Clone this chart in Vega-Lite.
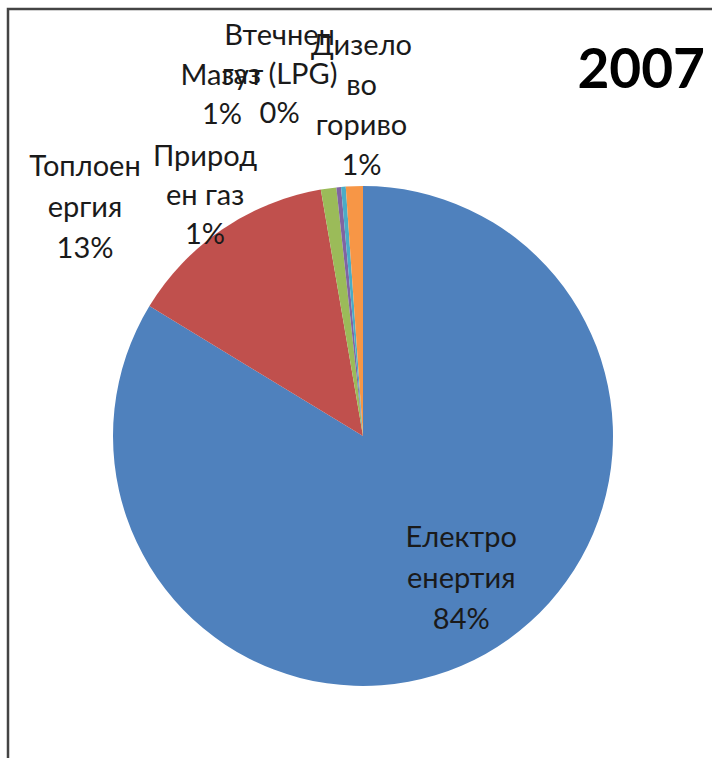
{
  "$schema": "https://vega.github.io/schema/vega-lite/v6.json",
  "width": 704,
  "height": 749,
  "autosize": "none",
  "padding": {"left": 8, "top": 9, "right": 0, "bottom": 0},
  "background": "white",
  "view": {"stroke": "#444444", "strokeWidth": 2.5, "strokeDash": [704, 1453, 749]},
  "title": {
    "text": "2007",
    "orient": "top",
    "anchor": "end",
    "frame": "group",
    "baseline": "alphabetic",
    "offset": -79,
    "dx": -7,
    "dy": 55,
    "font": "Lato",
    "fontSize": 55,
    "fontWeight": "bold",
    "color": "#000000"
  },
  "data": {
    "values": [
      {"i": 1, "name": "Електроенергия", "share": 83.7, "label": ["Електро", "енертия", "84%"]},
      {"i": 2, "name": "Топлоенергия", "share": 13.6, "label": ["Топлоен", "ергия", "13%"]},
      {"i": 3, "name": "Природен газ", "share": 1.0, "label": ["Природ", "ен газ", "1%"]},
      {"i": 4, "name": "Мазут", "share": 0.3, "label": ["Мазут", "1%"]},
      {"i": 5, "name": "Втечнен газ (LPG)", "share": 0.3, "label": ["Втечнен", "газ (LPG)", "0%"]},
      {"i": 6, "name": "Дизелово гориво", "share": 1.1, "label": ["Дизело", "во", "гориво", "1%"]}
    ]
  },
  "transform": [
    {"stack": "share", "groupby": [], "sort": [{"field": "i", "order": "ascending"}], "as": ["t0", "t1"]},
    {"calculate": "(datum.t0 + datum.t1) / 2", "as": "tm"}
  ],
  "layer": [
    {
      "mark": {"type": "arc", "outerRadius": 250, "xOffset": 3, "yOffset": 52.5},
      "encoding": {
        "theta": {"field": "t0", "type": "quantitative", "scale": {"domain": [0, 100]}},
        "theta2": {"field": "t1"},
        "color": {
          "field": "name",
          "type": "nominal",
          "legend": null,
          "scale": {
            "domain": ["Електроенергия", "Топлоенергия", "Природен газ", "Мазут", "Втечнен газ (LPG)", "Дизелово гориво"],
            "range": ["#4F81BD", "#C0504D", "#9BBB59", "#8064A2", "#4BACC6", "#F79646"]
          }
        }
      }
    },
    {
      "transform": [{"filter": "datum.i == 1"}],
      "mark": {"type": "text", "radius": 174, "dx": 13, "dy": -50, "xOffset": 3, "yOffset": 52.5, "font": "Lato", "fontSize": 29, "lineHeight": 41, "align": "center", "baseline": "middle", "color": "#1a1a1a"},
      "encoding": {"theta": {"field": "tm", "type": "quantitative"}, "text": {"field": "label"}}
    },
    {
      "transform": [{"filter": "datum.i == 2"}],
      "mark": {"type": "text", "radius": 346, "dx": -83.5, "dy": 17, "xOffset": 3, "yOffset": 52.5, "font": "Lato", "fontSize": 29, "lineHeight": 41, "align": "center", "baseline": "middle", "color": "#1a1a1a"},
      "encoding": {"theta": {"field": "tm", "type": "quantitative"}, "text": {"field": "label"}}
    },
    {
      "transform": [{"filter": "datum.i == 3"}],
      "mark": {"type": "text", "radius": 290, "dx": -118, "dy": 8, "xOffset": 3, "yOffset": 52.5, "font": "Lato", "fontSize": 29, "lineHeight": 39, "align": "center", "baseline": "middle", "color": "#1a1a1a"},
      "encoding": {"theta": {"field": "tm", "type": "quantitative"}, "text": {"field": "label"}}
    },
    {
      "transform": [{"filter": "datum.i == 4"}],
      "mark": {"type": "text", "radius": 345, "dx": -107.5, "dy": -17, "xOffset": 3, "yOffset": 52.5, "font": "Lato", "fontSize": 29, "lineHeight": 39, "align": "center", "baseline": "middle", "color": "#1a1a1a"},
      "encoding": {"theta": {"field": "tm", "type": "quantitative"}, "text": {"field": "label"}}
    },
    {
      "transform": [{"filter": "datum.i == 5"}],
      "mark": {"type": "text", "radius": 362, "dx": -55, "dy": -39, "xOffset": 3, "yOffset": 52.5, "font": "Lato", "fontSize": 29, "lineHeight": 39, "align": "center", "baseline": "middle", "color": "#1a1a1a"},
      "encoding": {"theta": {"field": "tm", "type": "quantitative"}, "text": {"field": "label"}}
    },
    {
      "transform": [{"filter": "datum.i == 6"}],
      "mark": {"type": "text", "radius": 331, "dx": 10, "dy": -59, "xOffset": 3, "yOffset": 52.5, "font": "Lato", "fontSize": 29, "lineHeight": 40, "align": "center", "baseline": "middle", "color": "#1a1a1a"},
      "encoding": {"theta": {"field": "tm", "type": "quantitative"}, "text": {"field": "label"}}
    }
  ]
}
